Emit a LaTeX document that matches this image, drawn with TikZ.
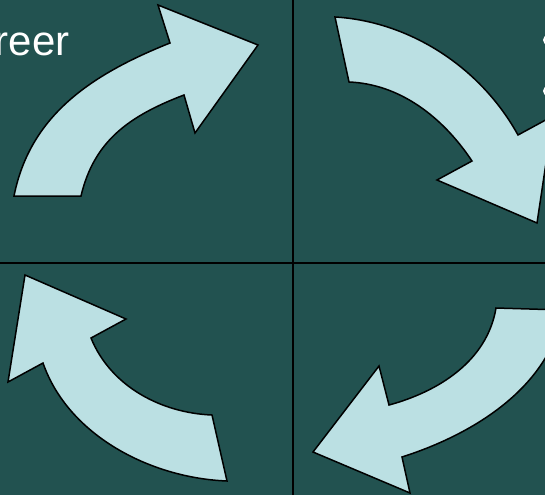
\documentclass[tikz,border=0pt]{standalone}
\usepackage{fontspec}
\setmainfont{Liberation Sans}
\definecolor{latar}{RGB}{34,82,80}
\definecolor{pucat}{RGB}{187,224,227}
\newcommand{\butir}[1]{\foreach \p in {#1} \fill[white] (\p) circle (5pt);}
\tikzset{
  panah/.style={fill=pucat,draw=black,line width=1.5pt,line join=miter},
  garis/.style={black,line width=1.5pt}
}

\begin{document}
\begin{tikzpicture}[x=1pt,y=-1pt]
  \useasboundingbox (0,0) rectangle (545,495);
  \fill[latar] (0,0) rectangle (545,495);

  \coordinate (P) at (548,40);
  \coordinate (Q) at (548,91);

  \draw[garis] (293,0) -- (293,495);
  \draw[garis] (0,263) -- (545,263);

  \draw[panah] (14,196) .. controls (30,116) and (90,75) .. (170,43)
    -- (158,5) -- (258,45) -- (195,133) -- (184,95)
    .. controls (129,116) and (94,141) .. (81,196) -- cycle;
  \draw[panah] (335,17) .. controls (405,21) and (478,63) .. (518,135)
    -- (553,116) -- (537,223) -- (437,180) -- (472,161)
    .. controls (442,116) and (399,84) .. (349,82) -- cycle;
  \draw[panah] (25,275) -- (126,319) -- (91,338)
    .. controls (111,387) and (162,413) .. (212,415)
    -- (227,481) .. controls (150,478) and (68,435) .. (43,363)
    -- (8,382) -- cycle;
  \draw[panah] (496,308) -- (563,310)
    .. controls (551,385) and (477,433) .. (402,457)
    -- (410,493) -- (313,452) -- (379,366) -- (389,405)
    .. controls (437,392) and (487,362) .. (496,308) -- cycle;

  \butir{P,Q}
  \node[anchor=base east,text=white,font=\fontsize{42}{50}\selectfont] (karier) at (73,56) {reer};
\end{tikzpicture}
\end{document}
